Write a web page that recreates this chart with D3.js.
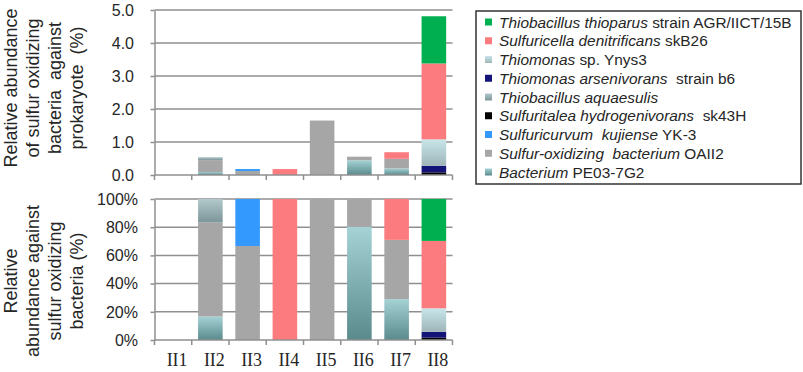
<!DOCTYPE html>
<html>
<head>
<meta charset="utf-8">
<script src="https://cdn.jsdelivr.net/npm/d3@7"></script>
<style>
  body { margin: 0; background: #fff; }
  svg text { font-family: "Liberation Sans", Arial, sans-serif; fill: #262626; white-space: pre; }
</style>
</head>
<body>
<div id="chart"></div>
<script>
// samples along the x axis
const samples = ['II1', 'II2', 'II3', 'II4', 'II5', 'II6', 'II7', 'II8'];

// relative abundance against prokaryote (%), one array per species (stack order bottom -> top)
const bacteriumPE03 = [0, 0.09, 0, 0, 0, 0.445, 0.2, 0];
const sulfurOxOAII2 = [0, 0.36, 0.12, 0, 1.65, 0.11, 0.29, 0];
const sulfuricurvum = [0, 0, 0.06, 0, 0, 0, 0, 0];
const sulfuritalea = [0, 0, 0, 0, 0, 0, 0, 0.08];
const tAquaesulis = [0, 0.09, 0, 0, 0, 0, 0, 0];
const tArsenivorans = [0, 0, 0, 0, 0, 0, 0, 0.2];
const thiomonasSp = [0, 0, 0, 0, 0, 0, 0, 0.8];
const sulfuricella = [0, 0, 0, 0.18, 0, 0, 0.2, 2.3];
const tThioparus = [0, 0, 0, 0, 0, 0, 0, 1.43];

const topTicks = [0, 1, 2, 3, 4, 5];
const bottomTicks = [0, 0.2, 0.4, 0.6, 0.8, 1];

const series = [
  { key: 'pe03', values: bacteriumPE03, it: 'Bacterium', rest: ' PE03-7G2', c: ['#a4d2d5', '#5b8a8d'] },
  { key: 'oaii2', values: sulfurOxOAII2, it: 'Sulfur-oxidizing  bacterium', rest: ' OAII2', c: ['#a6a6a6', '#a6a6a6'] },
  { key: 'kuj', values: sulfuricurvum, it: 'Sulfuricurvum  kujiense', rest: ' YK-3', c: ['#3399ff', '#3399ff'] },
  { key: 'sk43', values: sulfuritalea, it: 'Sulfuritalea hydrogenivorans', rest: '  sk43H', c: ['#000000', '#000000'] },
  { key: 'aqua', values: tAquaesulis, it: 'Thiobacillus aquaesulis', rest: '', c: ['#b3c9cc', '#7c9598'] },
  { key: 'ars', values: tArsenivorans, it: 'Thiomonas arsenivorans', rest: '  strain b6', c: ['#141478', '#141478'] },
  { key: 'ynys', values: thiomonasSp, it: 'Thiomonas', rest: ' sp. Ynys3', c: ['#c8e6ea', '#9fb5b8'] },
  { key: 'skb', values: sulfuricella, it: 'Sulfuricella denitrificans', rest: ' skB26', c: ['#fc7b7f', '#fc7b7f'] },
  { key: 'thio', values: tThioparus, it: 'Thiobacillus thioparus', rest: ' strain AGR/IICT/15B', c: ['#00b050', '#00b050'] },
];

const rows = samples.map((s, i) => {
  const r = { sample: s };
  series.forEach((d) => { r[d.key] = d.values[i]; });
  return r;
});
const keys = series.map((d) => d.key);

const width = 803;
const height = 372;
const gridColor = '#8f8f8f';

const svg = d3.select('#chart').append('svg')
  .attr('width', width)
  .attr('height', height);

// vertical gradient per species, applied per bar segment
const defs = svg.append('defs');
series.forEach((d) => {
  const g = defs.append('linearGradient')
    .attr('id', `grad-${d.key}`)
    .attr('x1', 0).attr('y1', 0).attr('x2', 0).attr('y2', 1);
  g.append('stop').attr('offset', '0%').attr('stop-color', d.c[0]);
  g.append('stop').attr('offset', '100%').attr('stop-color', d.c[1]);
});

const x = d3.scaleBand()
  .domain(samples)
  .range([154.5, 452.5])
  .paddingInner(0.34)
  .paddingOuter(0.17);

const drawPanel = (stacked, y, ticks, fmt, labelX, showLabels) => {
  const g = svg.append('g');
  const [y0, y1] = y.range();

  // grid lines
  g.append('g').selectAll('line')
    .data(ticks.filter((t) => t !== 0))
    .enter()
    .append('line')
    .attr('x1', x.range()[0])
    .attr('x2', x.range()[1])
    .attr('y1', (t) => y(t))
    .attr('y2', (t) => y(t))
    .attr('stroke', gridColor)
    .attr('stroke-width', 1.5);

  // bars
  g.append('g').selectAll('g')
    .data(stacked)
    .enter()
    .append('g')
    .attr('fill', (s) => `url(#grad-${s.key})`)
    .selectAll('rect')
    .data((s) => s.filter((p) => p[1] - p[0] > 0))
    .enter()
    .append('rect')
    .attr('x', (p) => x(p.data.sample))
    .attr('width', x.bandwidth())
    .attr('y', (p) => y(p[1]))
    .attr('height', (p) => y(p[0]) - y(p[1]));

  // y axis
  const ya = g.append('g')
    .attr('transform', `translate(${x.range()[0]},0)`)
    .call(d3.axisLeft(y).tickValues(ticks).tickFormat(() => '').tickSize(4).tickSizeOuter(0));
  ya.selectAll('line, path').attr('stroke', gridColor).attr('stroke-width', 1.5);

  g.append('g').selectAll('text')
    .data(ticks)
    .enter()
    .append('text')
    .attr('x', labelX)
    .attr('y', (t) => y(t))
    .attr('dy', '0.36em')
    .attr('text-anchor', 'end')
    .style('font-size', '16px')
    .text(fmt);

  // x axis: ticks at the category boundaries
  const bounds = d3.range(samples.length + 1)
    .map((i) => x.range()[0] + (i * (x.range()[1] - x.range()[0])) / samples.length);
  g.append('line')
    .attr('x1', x.range()[0]).attr('x2', x.range()[1])
    .attr('y1', y0).attr('y2', y0)
    .attr('stroke', gridColor).attr('stroke-width', 1.5);
  g.append('g').selectAll('line')
    .data(bounds)
    .enter()
    .append('line')
    .attr('x1', (b) => b).attr('x2', (b) => b)
    .attr('y1', y0).attr('y2', y0 + 5)
    .attr('stroke', gridColor).attr('stroke-width', 1.5);

  if (showLabels) {
    g.append('g').selectAll('text')
      .data(samples)
      .enter()
      .append('text')
      .attr('x', (s) => x(s) + x.bandwidth() / 2 + 4)
      .attr('y', 366)
      .attr('text-anchor', 'middle')
      .style('font-family', '"Liberation Serif", "Times New Roman", serif')
      .style('font-size', '18px')
      .text((s) => s);
  }
  return y1;
};

// top panel: abundance against prokaryote
const yTop = d3.scaleLinear().domain([0, 5]).range([175, 10]);
const stackTop = d3.stack().keys(keys)(rows);
drawPanel(stackTop, yTop, topTicks, d3.format('.1f'), 134, false);

// bottom panel: share within sulfur oxidizing bacteria
const yBot = d3.scaleLinear().domain([0, 1]).range([340, 199]);
const stackBot = d3.stack().keys(keys).offset(d3.stackOffsetExpand)(rows);
drawPanel(stackBot, yBot, bottomTicks, d3.format('.0%'), 138, true);

// y axis titles
const axisTitle = (lines, cy) => {
  const t = svg.append('g');
  lines.forEach((l, i) => {
    t.append('text')
      .attr('transform', `translate(${17 + i * 22},${cy}) rotate(-90)`)
      .attr('text-anchor', 'middle')
      .style('font-size', '18px')
      .text(l);
  });
};
axisTitle(['Relative abundance', 'of sulfur oxidizing', 'bacteria  against', 'prokaryote  (%)'], 88);
axisTitle(['Relative', 'abundance against', 'sulfur oxidizing', 'bacteria (%)'], 281);

// legend, top entry = top of stack
const legend = svg.append('g').attr('transform', 'translate(476,11)');
legend.append('rect')
  .attr('width', 325)
  .attr('height', 173)
  .attr('fill', '#fff')
  .attr('stroke', '#333')
  .attr('stroke-width', 1.5);

const items = legend.selectAll('.item')
  .data(series.slice().reverse())
  .enter()
  .append('g')
  .attr('class', 'item')
  .attr('transform', (d, i) => `translate(0,${11 + i * 18.75})`);

items.append('rect')
  .attr('x', 9)
  .attr('y', -3.5)
  .attr('width', 7)
  .attr('height', 7)
  .attr('fill', (d) => `url(#grad-${d.key})`);

const label = items.append('text')
  .attr('x', 23)
  .attr('dy', '0.36em')
  .style('font-size', '15.4px');
label.append('tspan').style('font-style', 'italic').text((d) => d.it);
label.append('tspan').text((d) => d.rest);
</script>
</body>
</html>
